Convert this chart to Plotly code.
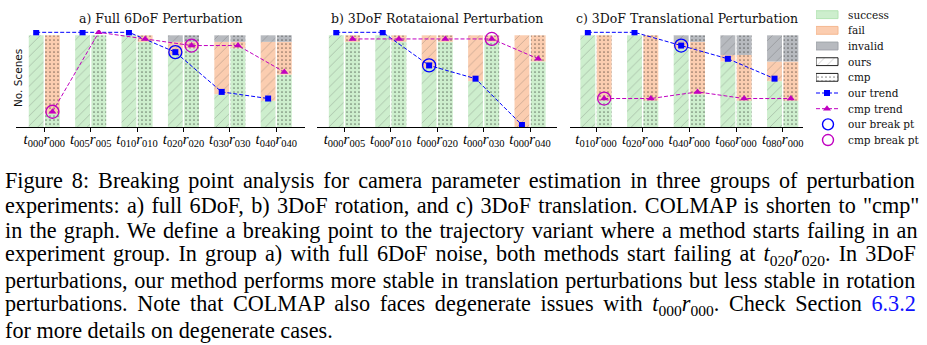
import plotly.graph_objects as go

# ---------------- data (scene counts, 14 scenes per variant) ----------------
N_SCENES = 14

a_labels = ["t000r000", "t005r005", "t010r010", "t020r020", "t030r030", "t040r040"]
a_ours_success = [14, 14, 14, 11, 5, 4]
a_ours_fail = [0, 0, 0, 2, 8, 9]
a_ours_invalid = [0, 0, 0, 1, 1, 1]
a_cmp_success = [2, 14, 13, 12, 12, 8]
a_cmp_fail = [12, 0, 1, 1, 1, 5]
a_cmp_invalid = [0, 0, 0, 1, 1, 1]
a_our_break = [3]
a_cmp_break = [0, 3]

b_labels = ["t000r005", "t000r010", "t000r020", "t000r030", "t000r040"]
b_ours_success = [14, 14, 9, 7, 0]
b_ours_fail = [0, 0, 5, 7, 14]
b_ours_invalid = [0, 0, 0, 0, 0]
b_cmp_success = [13, 13, 13, 13, 10]
b_cmp_fail = [1, 1, 1, 1, 4]
b_cmp_invalid = [0, 0, 0, 0, 0]
b_our_break = [2]
b_cmp_break = [3]

c_labels = ["t010r000", "t020r000", "t040r000", "t060r000", "t080r000"]
c_ours_success = [14, 14, 12, 10, 7]
c_ours_fail = [0, 0, 1, 1, 3]
c_ours_invalid = [0, 0, 1, 3, 4]
c_cmp_success = [4, 4, 5, 4, 4]
c_cmp_fail = [10, 10, 8, 7, 6]
c_cmp_invalid = [0, 0, 1, 3, 4]
c_our_break = [2]
c_cmp_break = [0]

titles = ["a) Full 6DoF Perturbation", "b) 3DoF Rotataional Perturbation",
          "c) 3DoF Translational Perturbation"]
status_names = ["success", "fail", "invalid"]
legend_names = ["success", "fail", "invalid", "ours", "cmp",
                "our trend", "cmp trend", "our break pt", "cmp break pt"]

caption_lines = [
    "Figure 8: Breaking point analysis for camera parameter estimation in three groups of perturbation",
    "experiments: a) full 6DoF, b) 3DoF rotation, and c) 3DoF translation. COLMAP is shorten to \"cmp\"",
    "in the graph. We define a breaking point to the trajectory variant where a method starts failing in an",
    "experiment group. In group a) with full 6DoF noise, both methods start failing at {t020r020}. In 3DoF",
    "perturbations, our method performs more stable in translation perturbations but less stable in rotation",
    "perturbations. Note that COLMAP also faces degenerate issues with {t000r000}. Check Section [6.3.2]",
    "for more details on degenerate cases.",
]

# ---------------- styles ----------------
W, H = 927, 345
COL = {"success": "#cdeecd", "fail": "#fbcdb0", "invalid": "#b7babf"}
EDGE = {"success": "#b3e3b3", "fail": "#f5b890", "invalid": "#9ea2a8"}
BLUE = "#0000ff"
MAG = "#c000c0"
HATCH = dict(shape="/", fgcolor="rgba(70,70,70,0.55)", size=7, solidity=0.13)
DOTS = dict(shape=".", fgcolor="rgba(0,0,0,0.9)", size=4, solidity=0.14)
SERIF = "DejaVu Serif"
TEXT_SERIF = "Liberation Serif"
CAPTION_SIZE = 22.2
# extra inter-word spacing (px) to imitate the justified caption block
CAPTION_WORD_SPACING = [3.4, 1.75, 1.7, 2.6, 1.1, 4.1, 0]


def fx(p):
    return p / W


def fy(p):
    return 1 - p / H


def tick_html(s):
    return f"<i>t</i><sub>{s[1:4]}</sub><i>r</i><sub>{s[5:8]}</sub>"


panels = [
    dict(labels=a_labels, ours=[a_ours_success, a_ours_fail, a_ours_invalid],
         cmp=[a_cmp_success, a_cmp_fail, a_cmp_invalid], ob=a_our_break, cb=a_cmp_break,
         dom=(16, 305), xr=(-0.61, 5.62)),
    dict(labels=b_labels, ours=[b_ours_success, b_ours_fail, b_ours_invalid],
         cmp=[b_cmp_success, b_cmp_fail, b_cmp_invalid], ob=b_our_break, cb=b_cmp_break,
         dom=(317, 557), xr=(-0.59, 4.58)),
    dict(labels=c_labels, ours=[c_ours_success, c_ours_fail, c_ours_invalid],
         cmp=[c_cmp_success, c_cmp_fail, c_cmp_invalid], ob=c_our_break, cb=c_cmp_break,
         dom=(570, 803), xr=(-0.557, 4.435)),
]

BAR_W = 0.32
OFF = {"ours": -0.335, "cmp": 0.015}
CENTER = {m: OFF[m] + BAR_W / 2 for m in OFF}
Y_TOP, Y_BOT = 30, 127

fig = go.Figure()
layout = dict(
    width=W, height=H, margin=dict(l=0, r=0, t=0, b=0),
    paper_bgcolor="white", plot_bgcolor="rgba(0,0,0,0)",
    barmode="overlay", showlegend=False, annotations=[],
)

for k, p in enumerate(panels):
    n = len(p["labels"])
    xs = list(range(n))
    xa = "x" if k == 0 else f"x{k + 1}"
    ya = "y" if k == 0 else f"y{k + 1}"
    ya_tr = f"y{k + 4}"
    for method, pat in (("ours", HATCH), ("cmp", DOTS)):
        base = [0] * n
        for s, vals in zip(status_names, p[method]):
            fig.add_trace(go.Bar(
                x=xs, y=vals, base=base, offset=OFF[method], width=BAR_W,
                marker=dict(color=COL[s], line=dict(width=0), pattern=pat),
                xaxis=xa, yaxis=ya, hoverinfo="skip"))
            base = [b + v for b, v in zip(base, vals)]
    # trends
    for method, col, sym in (("ours", BLUE, "square"), ("cmp", MAG, "triangle-up")):
        fig.add_trace(go.Scatter(
            x=[i + CENTER[method] for i in xs], y=p[method][0], mode="lines+markers",
            line=dict(color=col, width=1, dash="4px,2px"),
            marker=dict(symbol=sym, size=6 if sym == "square" else 7, color=col),
            xaxis=xa, yaxis=ya_tr, hoverinfo="skip"))
    for method, col, idx in (("ours", BLUE, p["ob"]), ("cmp", MAG, p["cb"])):
        fig.add_trace(go.Scatter(
            x=[i + CENTER[method] for i in idx], y=[p[method][0][i] for i in idx],
            mode="markers",
            marker=dict(symbol="circle-open", size=13, color=col, line=dict(width=1.3, color=col)),
            xaxis=xa, yaxis=ya_tr, hoverinfo="skip"))

    xkey = "xaxis" if k == 0 else f"xaxis{k + 1}"
    ykey = "yaxis" if k == 0 else f"yaxis{k + 1}"
    layout[xkey] = dict(
        domain=[fx(p["dom"][0]), fx(p["dom"][1])], range=list(p["xr"]), anchor=ya,
        tickmode="array", tickvals=xs, ticktext=[tick_html(s) for s in p["labels"]],
        showline=True, linecolor="black", linewidth=1.2, ticks="outside",
        ticklen=4, tickwidth=1, tickcolor="black", showgrid=False, zeroline=False,
        ticklabelstandoff=-6,
        tickfont=dict(family=TEXT_SERIF, size=15, color="black"), fixedrange=True)
    layout[ykey] = dict(
        domain=[fy(Y_BOT), fy(Y_TOP)], range=[0, N_SCENES * 97 / 91.7], anchor=xa,
        visible=False, showgrid=False, zeroline=False, fixedrange=True)
    layout[f"yaxis{k + 4}"] = dict(
        overlaying=ya, anchor=xa, range=[-0.30, 14.35], visible=False,
        showgrid=False, zeroline=False, fixedrange=True)
    layout["annotations"].append(dict(
        text=titles[k], xref="paper", yref="paper",
        x=fx((p["dom"][0] + p["dom"][1]) / 2), y=fy(18), xanchor="center", yanchor="middle",
        showarrow=False, font=dict(family=SERIF, size=12.5, color="#111")))

layout["annotations"].append(dict(
    text="No. Scenes", xref="paper", yref="paper", x=fx(18), y=fy(78), textangle=-90,
    xanchor="center", yanchor="middle", showarrow=False,
    font=dict(family="DejaVu Sans", size=10.5, color="#111")))

# ---------------- legend (drawn on its own helper axis) ----------------
rows = list(range(len(legend_names)))
PATCH = 22
for r, s in zip(rows[:3], status_names):
    fig.add_trace(go.Bar(
        y=[r], x=[PATCH], base=[0], orientation="h", width=0.5,
        marker=dict(color=COL[s], line=dict(width=1, color=EDGE[s])),
        xaxis="x7", yaxis="y7", hoverinfo="skip"))
for r, pat in ((rows[3], HATCH), (rows[4], DOTS)):
    fig.add_trace(go.Bar(
        y=[r], x=[PATCH], base=[0], orientation="h", width=0.5,
        marker=dict(color="white", line=dict(width=1, color="#222"), pattern=pat),
        xaxis="x7", yaxis="y7", hoverinfo="skip"))
for r, col, sym in ((rows[5], BLUE, "square"), (rows[6], MAG, "triangle-up")):
    fig.add_trace(go.Scatter(
        x=[0, PATCH], y=[r, r], mode="lines", line=dict(color=col, width=1, dash="4px,2px"),
        xaxis="x7", yaxis="y7", hoverinfo="skip"))
    fig.add_trace(go.Scatter(
        x=[PATCH / 2], y=[r], mode="markers",
        marker=dict(symbol=sym, size=6 if sym == "square" else 7, color=col),
        xaxis="x7", yaxis="y7", hoverinfo="skip"))
for r, col in ((rows[7], BLUE), (rows[8], MAG)):
    fig.add_trace(go.Scatter(
        x=[PATCH / 2 + 1], y=[r], mode="markers",
        marker=dict(symbol="circle-open", size=11, color=col, line=dict(width=1.4, color=col)),
        xaxis="x7", yaxis="y7", hoverinfo="skip"))
for r, name in zip(rows, legend_names):
    layout["annotations"].append(dict(
        text=name, xref="x7", yref="y7", x=29.5, y=r, xanchor="left", yanchor="middle",
        showarrow=False, font=dict(family=SERIF, size=10.5, color="#111")))

layout["xaxis7"] = dict(domain=[fx(816), 1.0], range=[0, 111], anchor="y7",
                        visible=False, fixedrange=True)
layout["yaxis7"] = dict(domain=[fy(148), fy(7)], range=[8.51, -0.49], anchor="x7",
                        visible=False, fixedrange=True)


# ---------------- caption ----------------
def caption_html(line, spacing):
    out = line
    for code in ("t020r020", "t000r000"):
        out = out.replace("{" + code + "}", tick_html(code))
    out = out.replace("[6.3.2]", "<span style='color:#1010ff'>6.3.2</span>")
    if spacing:
        out = f"<span style='word-spacing:{spacing}px'>{out}</span>"
    return out


for i, line in enumerate(caption_lines):
    layout["annotations"].append(dict(
        text=caption_html(line, CAPTION_WORD_SPACING[i]), xref="paper", yref="paper",
        x=fx(3), y=fy(180 + 25 * i), xanchor="left", yanchor="middle", showarrow=False,
        font=dict(family=TEXT_SERIF, size=CAPTION_SIZE, color="black")))

fig.update_layout(**layout)
fig.write_html("out.html")
